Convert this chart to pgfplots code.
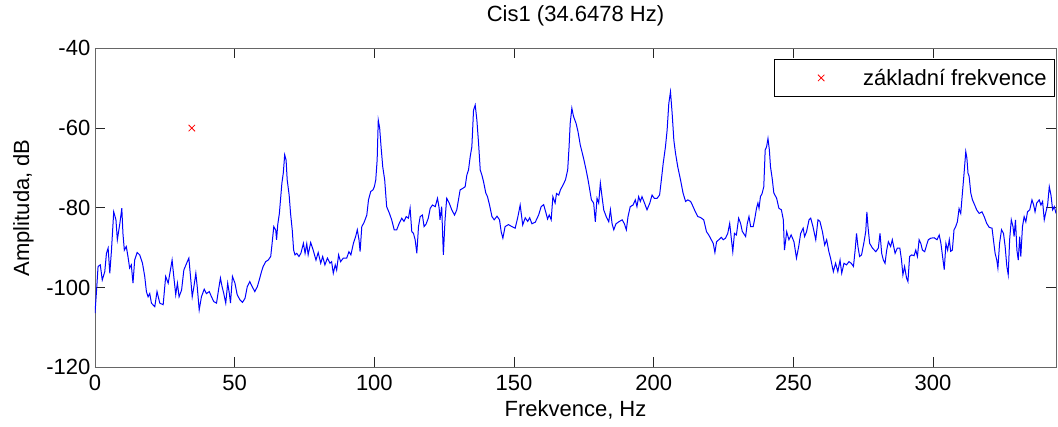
\documentclass[border=0pt]{standalone}
\usepackage{fontspec}
\setmainfont{Liberation Sans}
\usepackage{pgfplots}
\pgfplotsset{compat=1.18}
\begin{document}
\begin{tikzpicture}[font=\fontsize{16.5}{20}\selectfont]
\begin{axis}[
  name=ax,
  at={(0,0)}, anchor=south west,
  scale only axis, width=720.75pt, height=239.25pt,
  xmin=0, xmax=344, ymin=-120, ymax=-40,
  xtick={0,50,...,300}, ytick={-120,-100,...,-40},
  tick align=inside, major tick length=7.5pt,
  axis line style={black!60, line width=0.6pt},
  tick style={black!85, line width=0.6pt},
  /pgf/number format/assume math mode=true,
  xticklabel style={yshift=-2pt},
  title={Cis1 (34.6478 Hz)},
  title style={at={(axis description cs:0.5,1.076)}, anchor=center},
  xlabel={Frekvence, Hz},
  xlabel style={at={(axis description cs:0.5,-0.134)}, anchor=center},
  ylabel={Amplituda, dB},
  ylabel style={at={(axis description cs:-0.0744,0.5)}, anchor=center},
  legend style={at={(rel axis cs:0.999,0.9665)}, anchor=north east, draw=black, line width=0.6pt, fill=white, inner xsep=6pt, inner ysep=0pt, nodes={inner sep=0pt}},
  legend image code/.code={\path[draw=none,fill=none] (-29.25pt,-13.875pt) rectangle (31.5pt,13.875pt); \draw[#1] plot coordinates {(0pt,0pt)};},
]
\addplot[blue, line width=0.75pt, forget plot] coordinates {
(0,-106.4) (0.5,-101.3) (1.1,-94.7) (1.9,-94.3) (2.6,-98.1) (3.5,-96) (4.1,-91.4) (4.7,-90.1) (5.3,-96.4) (5.9,-90.6)
(6.7,-81) (7.5,-83) (8.0,-88) (8.9,-83.9) (9.6,-80.1) (10.0,-86.4) (10.5,-90.6) (11.2,-89.7) (11.8,-92.2) (12.4,-95.1)
(13.0,-94.3) (13.6,-98.9) (14.2,-93.1) (15.1,-91.2) (16.0,-91.8) (17.0,-93.9) (17.8,-97.2) (18.4,-101) (19.0,-102.3) (19.6,-101.5)
(20.2,-103.9) (21.4,-104.8) (22.2,-101) (23.2,-103.9) (24.4,-104.3) (25.3,-97.2) (26.2,-98.9) (26.8,-96.4) (27.6,-93.1) (28.2,-97.2)
(28.9,-101.8) (29.5,-98.9) (30.1,-102.3) (31.0,-100.6) (31.8,-95.6) (32.8,-93.9) (33.6,-92.6) (34.3,-98.1) (34.8,-102.3) (35.4,-99.8)
(36.1,-96.4) (36.6,-99.8) (37.3,-105.6) (38.1,-102.3) (39.1,-100.4) (39.9,-101.5) (40.9,-101) (41.7,-102.3) (42.5,-103.5) (43.5,-103.9)
(44.3,-100.2) (44.9,-97.6) (45.5,-99.8) (46.1,-101.5) (46.8,-103.9) (47.5,-98.9) (48.1,-101.5) (48.5,-103.9) (49.2,-97.2) (50.1,-98.9)
(50.9,-101.8) (51.9,-103.1) (52.8,-103.7) (53.7,-102.7) (54.5,-99.8) (55.4,-98.5) (56.3,-99.8) (57.2,-101) (58.1,-99.8) (58.8,-98.1)
(59.6,-96) (60.2,-94.7) (61.1,-93.5) (62.0,-93.1) (62.9,-92.2) (63.4,-88.9) (64.0,-84.7) (64.7,-85.6) (65.0,-88) (65.4,-84.3)
(66.0,-81.4) (66.4,-78) (66.9,-73.8) (67.4,-71.3) (67.9,-66.7) (68.4,-68) (68.8,-73) (69.5,-76.8) (70.0,-81.4) (70.6,-85.5)
(71.1,-90.6) (71.6,-91.8) (72.2,-91.4) (73.0,-92.2) (73.7,-91.4) (74.6,-88.9) (75.2,-91.4) (75.8,-89) (76.3,-91.8) (77.2,-88.7)
(78.1,-90.6) (79.1,-93.1) (79.9,-91.2) (80.8,-93.9) (81.5,-92.2) (82.3,-94.3) (83.2,-92.6) (84.1,-93.9) (84.7,-93.5) (85.3,-96.4)
(86.0,-94.3) (86.5,-95.6) (87.2,-91.8) (87.9,-93.5) (88.9,-92.6) (90.1,-92.6) (90.9,-91) (91.6,-91.8) (92.5,-88.9) (93.3,-87.2)
(93.9,-85.5) (94.5,-88) (94.9,-91) (95.5,-84.7) (96.3,-83.7) (97.3,-81.8) (97.9,-78) (98.7,-75.9) (99.5,-75.5) (100.0,-74.7)
(100.5,-73) (101.0,-68) (101.4,-58) (101.9,-60) (102.4,-64.7) (103.0,-69.7) (103.7,-73) (104.4,-79.7) (105.4,-81.4) (106.2,-83)
(107.1,-85.5) (108.0,-85.5) (108.9,-83.9) (109.8,-82.6) (110.6,-83.4) (111.4,-82.2) (112.2,-82.6) (112.8,-80.1) (113.4,-86) (114.0,-86.4)
(114.6,-88) (115.2,-91.4) (115.8,-84.7) (116.4,-82.2) (117.2,-81.8) (117.8,-84.7) (118.5,-84.1) (119.3,-82.6) (120.0,-80.1) (120.8,-79.3)
(121.8,-79.7) (122.6,-77.6) (123.2,-80.1) (123.5,-83) (124.1,-79.7) (124.7,-91.8) (125.3,-83) (125.9,-77.6) (126.8,-78.8) (127.7,-80.5)
(128.7,-81.8) (129.5,-80.5) (130.1,-78) (130.7,-75.5) (131.7,-75.1) (132.5,-74.7) (133.1,-71.8) (133.7,-70.5) (134.3,-67.2) (134.9,-64.7)
(135.5,-55.5) (136.1,-54.2) (136.7,-58) (137.3,-63.8) (137.9,-70.5) (138.5,-71.8) (139.1,-73.5) (139.9,-76.3) (140.5,-77.2) (141.2,-79.2)
(142.1,-82.2) (142.9,-83) (143.9,-82.1) (144.8,-83) (145.4,-86) (146.0,-87.6) (146.8,-84.7) (148.0,-84.2) (149.2,-84.7) (150.4,-85.1)
(151.3,-82.5) (152.2,-79.3) (153.1,-84.3) (154.0,-82.5) (154.9,-83.4) (155.6,-82.5) (156.4,-84) (157.6,-83.6) (158.8,-81.8) (159.7,-79.7)
(160.6,-79.2) (161.4,-81.2) (162.0,-82.8) (162.6,-81.8) (163.3,-83) (163.9,-77.2) (164.7,-78.8) (165.2,-76.4) (166.0,-76.8) (166.6,-75.5)
(167.5,-74.3) (168.4,-73) (169.2,-70.5) (169.7,-64.7) (170.1,-58.8) (170.7,-55) (171.3,-57.1) (172.2,-58.8) (172.9,-60.9) (173.7,-64.2)
(174.3,-65.9) (174.9,-67.6) (175.8,-70.5) (176.5,-73) (177.1,-75.5) (177.7,-78) (178.5,-78.8) (179.1,-83.5) (179.7,-77.6) (180.3,-78.8)
(180.9,-73.8) (181.5,-77.2) (182.1,-80.5) (183.0,-82.2) (183.9,-83.5) (184.5,-80.5) (185.1,-84) (185.7,-85.5) (186.5,-84) (187.5,-83.5)
(188.7,-83) (189.5,-84) (190.2,-85.5) (190.8,-82.2) (191.6,-79.7) (192.6,-79.3) (193.4,-78) (194.0,-79.7) (194.6,-77.2) (195.2,-78.4)
(195.8,-77.2) (196.7,-78.8) (197.6,-80.5) (198.6,-78.8) (199.4,-76.8) (200.2,-77.6) (201.2,-77.6) (202.1,-76.8) (202.6,-73.8) (203.4,-68.8)
(204.2,-64.7) (204.8,-60.5) (205.4,-53.8) (206.0,-50.9) (206.6,-56.3) (207.2,-63) (207.8,-66.3) (208.6,-69.7) (209.6,-73) (210.5,-76.3)
(211.4,-78.4) (212.2,-78) (213.2,-78.4) (214.1,-79.7) (214.9,-81) (215.8,-82.2) (216.7,-82.4) (217.9,-83) (218.9,-86) (219.7,-86.8)
(220.6,-88) (221.3,-88.9) (221.9,-91.2) (222.5,-88.5) (223.3,-88) (224.2,-87.4) (224.9,-88) (225.7,-87.6) (226.5,-86.4) (227.2,-83.9)
(227.7,-87.2) (228.3,-91) (228.9,-86.4) (229.6,-86.8) (230.4,-82.6) (231.1,-83.9) (231.7,-85.9) (232.9,-87.2) (233.5,-83.9) (234.1,-82.2)
(234.7,-84.7) (235.6,-84.7) (236.2,-82.6) (236.8,-80.1) (237.3,-78.8) (237.7,-80.1) (238.2,-77.2) (238.8,-76.4) (239.4,-74.7) (239.9,-65.5)
(240.4,-64.7) (240.9,-62.6) (241.4,-65.5) (241.8,-69.7) (242.4,-72.6) (243.0,-76.3) (244.0,-77.6) (244.8,-80.1) (245.7,-80.5) (246.4,-83)
(246.8,-90.6) (247.6,-86) (248.4,-88) (249.2,-86.8) (250.2,-88.5) (251.1,-92.6) (251.9,-89.7) (252.6,-86.4) (253.5,-85.1) (254.0,-87.2)
(254.7,-86) (255.6,-83) (256.2,-82.6) (257.0,-84.7) (258.0,-88) (258.8,-83) (259.5,-83.4) (260.4,-86) (261.2,-89.3) (261.9,-88)
(262.7,-91) (263.3,-92.6) (264.3,-96) (265.1,-93.9) (265.9,-96) (266.7,-93.1) (267.3,-96.4) (268.1,-93.9) (269.0,-94.3) (269.9,-93.5)
(270.7,-93.9) (271.5,-94.7) (272.1,-90.6) (272.6,-86.4) (273.1,-89.7) (273.7,-92.2) (274.4,-91.8) (275.3,-88.5) (275.9,-85.9) (276.3,-81)
(276.7,-84.7) (277.3,-88.9) (278.3,-90.1) (279.5,-91) (280.4,-90.1) (281.0,-86.4) (281.6,-91.4) (282.2,-93.1) (282.8,-93.9) (283.4,-90.6)
(284.0,-88.5) (284.8,-89.7) (285.4,-88) (286.4,-91.4) (287.2,-90.1) (288.1,-90.1) (288.7,-93.1) (289.2,-96.8) (289.8,-94.7) (290.5,-97.6)
(291.0,-98.5) (291.6,-92.2) (292.3,-91.8) (293.2,-92) (293.8,-90.6) (294.4,-92.2) (295.0,-88) (295.6,-88.9) (296.2,-90.6) (297.0,-91)
(297.7,-89.3) (298.3,-88) (299.2,-87.6) (300.4,-87.5) (301.4,-88) (302.2,-86.8) (302.8,-88.9) (303.4,-92.2) (304.0,-95.5) (304.6,-88.9)
(305.2,-90.6) (305.8,-88) (306.3,-90.9) (306.9,-90.6) (307.5,-85.5) (308.1,-84.7) (308.7,-83.5) (309.3,-80.2) (309.9,-81.4) (310.5,-76.3)
(311.1,-71.3) (311.7,-65.9) (312.1,-67.5) (312.5,-71.3) (312.9,-72.1) (313.5,-76.3) (314.1,-78) (314.9,-79.3) (315.6,-80.5) (316.5,-81.4)
(317.5,-81) (318.3,-82.2) (319.2,-83.9) (320.1,-84.9) (321.1,-85.1) (321.6,-88) (322.2,-91.4) (322.8,-93.1) (323.2,-95.1) (323.8,-88.9)
(324.5,-85.5) (325.2,-86.4) (325.8,-89.7) (326.4,-94.7) (326.9,-96.8) (327.4,-88) (328.0,-83) (328.6,-84.7) (329.0,-87.2) (329.5,-83)
(330.0,-90.6) (330.5,-93.1) (331.0,-87.2) (331.4,-92.2) (332.0,-84.7) (332.6,-82.2) (333.2,-83.5) (333.8,-81) (334.6,-80.5) (335.4,-78)
(336.0,-79.3) (336.5,-81) (337.1,-78.8) (338.0,-78) (338.6,-79.3) (339.2,-78.4) (339.8,-83) (340.4,-81) (341.0,-79.3) (341.6,-74.7)
(342.2,-76.8) (342.8,-80.5) (343.4,-79.7) (344.0,-81.4)
};
\addplot[only marks, mark=x, red, mark size=3.4pt, line width=0.6pt] coordinates {(34.6478,-60)};
\addlegendentry{základní frekvence}
\end{axis}
\pgfresetboundingbox
\path[use as bounding box] (-71.25pt,-44pt) rectangle (722.25pt,275.5pt);
\end{tikzpicture}
\end{document}
